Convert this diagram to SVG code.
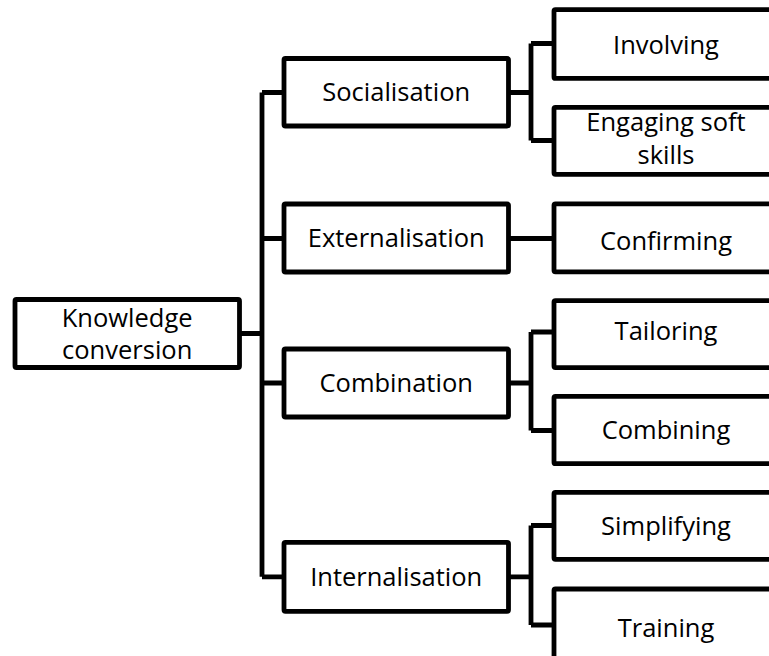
<svg xmlns="http://www.w3.org/2000/svg" width="769" height="656" viewBox="0 0 769 656">
<style>
.box{fill:#fff;stroke:#000;stroke-width:4.8;stroke-linejoin:round}
.ln{fill:none;stroke:#000;stroke-width:4.8;stroke-linejoin:round;stroke-linecap:butt}
text{font-family:"Open Sans","Noto Sans","Liberation Sans",sans-serif;font-size:25.5px;fill:#000;text-anchor:middle}
</style>
<rect width="769" height="656" fill="#fff"/>
<g id="connectors">
<path class="ln" d="M239.5 333.5H262M262 92.5V576.8M262 92.5H284M262 238.5H284M262 383H284M262 576.8H284"/>
<path class="ln" d="M508.5 92.5H531M531 43.5V140.5M531 43.5H554M531 140.5H554"/>
<path class="ln" d="M508.5 238.5H554"/>
<path class="ln" d="M508.5 383H531M531 332V430.5M531 332H554M531 430.5H554"/>
<path class="ln" d="M508.5 576.8H531M531 525.5V625M531 525.5H554M531 625H554"/>
</g>
<g id="knowledge"><rect class="box" x="15" y="299.5" width="224.5" height="68" rx="1.5"/><text x="127.2" y="326.5">Knowledge</text><text x="127.2" y="358.8">conversion</text></g>
<g id="socialisation"><rect class="box" x="284" y="58.5" width="224.5" height="67.5" rx="1.5"/><text x="396.2" y="101">Socialisation</text></g>
<g id="externalisation"><rect class="box" x="284" y="204" width="224.5" height="68" rx="1.5"/><text x="396.2" y="246.5">Externalisation</text></g>
<g id="combination"><rect class="box" x="284" y="349" width="224.5" height="68" rx="1.5"/><text x="396.2" y="391.5">Combination</text></g>
<g id="internalisation"><rect class="box" x="284" y="542.3" width="224.5" height="69" rx="1.5"/><text x="396.2" y="585.8">Internalisation</text></g>
<g id="involving"><rect class="box" x="554" y="9.6" width="224" height="68.8" rx="1.5"/><text x="666" y="53.5">Involving</text></g>
<g id="engaging"><rect class="box" x="554" y="107.3" width="224" height="67" rx="1.5"/><text x="666" y="131.3">Engaging soft</text><text x="666" y="164.3">skills</text></g>
<g id="confirming"><rect class="box" x="554" y="203.8" width="224" height="68" rx="1.5"/><text x="666" y="249.5">Confirming</text></g>
<g id="tailoring"><rect class="box" x="554" y="300.6" width="224" height="67" rx="1.5"/><text x="666" y="340.3">Tailoring</text></g>
<g id="combining"><rect class="box" x="554" y="396.3" width="224" height="67.4" rx="1.5"/><text x="666" y="438.5">Combining</text></g>
<g id="simplifying"><rect class="box" x="554" y="492.3" width="224" height="67" rx="1.5"/><text x="666" y="535.3">Simplifying</text></g>
<g id="training"><rect class="box" x="554" y="589" width="224" height="72" rx="1.5"/><text x="666" y="637">Training</text></g>
</svg>
